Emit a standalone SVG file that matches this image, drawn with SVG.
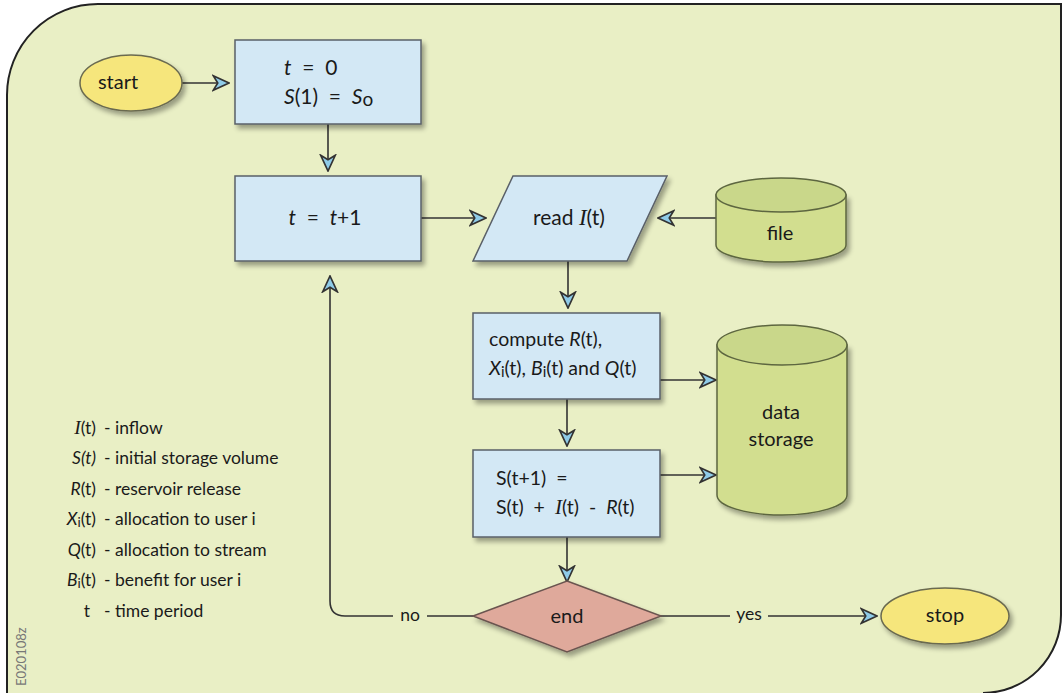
<svg xmlns="http://www.w3.org/2000/svg" width="1063" height="693" viewBox="0 0 1063 693">
<style>
text{font-family:Lato,"Open Sans","Liberation Sans",sans-serif;fill:#1a1a1a}
.box{fill:#d3e8f5;stroke:#5a6068;stroke-width:1.5}
.term{fill:#f6e67b;stroke:#6a6a50;stroke-width:1.5}
.cyl{fill:#d2de8f;stroke:#5d6640;stroke-width:1.5}
.cyltop{fill:#c9d78a;stroke:#5d6640;stroke-width:1.5}
.dia{fill:#dfa99b;stroke:#6a5550;stroke-width:1.5}
.conn{fill:none;stroke:#333;stroke-width:1.6}
.it{font-style:italic}
.ser{font-family:"Liberation Serif",serif;font-style:italic}
.lbl{font-size:17.5px}
.t21{font-size:21px}
.t20{font-size:20px}
.t19{font-size:19.5px}
</style>
<defs>
<filter id="sh" x="-10%" y="-10%" width="130%" height="140%">
<feGaussianBlur in="SourceAlpha" stdDeviation="2.5"/>
<feOffset dx="3" dy="4" result="b"/>
<feComponentTransfer><feFuncA type="linear" slope="0.35"/></feComponentTransfer>
<feMerge><feMergeNode/><feMergeNode in="SourceGraphic"/></feMerge>
</filter>
<marker id="arr" markerUnits="userSpaceOnUse" markerWidth="18" markerHeight="18" viewBox="0 0 16 16" refX="15" refY="8" orient="auto">
<path d="M1,1.5 L15,8 L1,14.5 L5,8 Z" fill="#8fcbe8" stroke="#333" stroke-width="1.5" stroke-linejoin="miter"/>
</marker>
</defs>
<rect width="1063" height="693" fill="#fff"/>
<path d="M7,700 L7,95 A91,91 0 0 1 98,4 L1061,4 L1061,615 A78,78 0 0 1 983,693 L983,700 Z" fill="#e9efc5"/>
<path id="panel" d="M7,693 L7,95 A91,91 0 0 1 98,4 L1061,4 L1061,615 A78,78 0 0 1 983,693" fill="none" stroke="#222" stroke-width="2"/>
<text x="26" y="686" transform="rotate(-90 26 686)" font-size="13" style="fill:#777">E020108z</text>

<g id="connectors">
<line class="conn" x1="182" y1="83" x2="229" y2="83" marker-end="url(#arr)"/>
<line class="conn" x1="328" y1="124" x2="328" y2="171" marker-end="url(#arr)"/>
<line class="conn" x1="421" y1="218" x2="486" y2="218" marker-end="url(#arr)"/>
<line class="conn" x1="716" y1="218" x2="658" y2="218" marker-end="url(#arr)"/>
<line class="conn" x1="568" y1="261" x2="568" y2="308" marker-end="url(#arr)"/>
<line class="conn" x1="567" y1="399" x2="567" y2="446" marker-end="url(#arr)"/>
<line class="conn" x1="567" y1="537" x2="567" y2="582" marker-end="url(#arr)"/>
<line class="conn" x1="660" y1="380" x2="716" y2="380" marker-end="url(#arr)"/>
<line class="conn" x1="660" y1="475" x2="716" y2="475" marker-end="url(#arr)"/>
<path class="conn" d="M473,616 L427,616 M393,616 L345,616 Q330,616 330,601 L330,276" marker-end="url(#arr)"/>
<path class="conn" d="M660,616 L730,616 M768,616 L877,616" marker-end="url(#arr)"/>
<text x="410" y="621" class="lbl" text-anchor="middle">no</text>
<text x="749" y="620" class="lbl" text-anchor="middle">yes</text>
</g>

<g id="start">
<ellipse class="term" cx="131" cy="83" rx="51" ry="28" filter="url(#sh)"/>
<text x="118" y="89" class="t20" text-anchor="middle">start</text>
</g>

<g id="init">
<rect class="box" x="235" y="40" width="186" height="84" filter="url(#sh)"/>
<text x="284" y="75" class="t21" xml:space="preserve"><tspan class="it">t</tspan>  =  0</text>
<text x="284" y="104" class="t21" xml:space="preserve"><tspan class="it">S</tspan>(1)  =  <tspan class="it">S</tspan><tspan font-size="19" dy="2">o</tspan></text>
</g>

<g id="incr">
<rect class="box" x="235" y="176" width="186" height="85" filter="url(#sh)"/>
<text x="325" y="225" class="t21" text-anchor="middle" xml:space="preserve"><tspan class="it">t</tspan>  =  <tspan class="it">t</tspan>+1</text>
</g>

<g id="read">
<polygon class="box" points="513,176 667,176 627,261 473,261" filter="url(#sh)"/>
<text x="569" y="225" class="t21" text-anchor="middle">read <tspan class="ser" font-size="23">I</tspan>(t)</text>
</g>

<g id="file">
<path class="cyl" d="M716,195 L716,245 A65,17 0 0 0 846,245 L846,195 Z" filter="url(#sh)"/>
<ellipse class="cyltop" cx="781" cy="195" rx="65" ry="17"/>
<text x="780" y="240" class="t20" text-anchor="middle">file</text>
</g>

<g id="compute">
<rect class="box" x="473" y="313" width="187" height="86" filter="url(#sh)"/>
<text x="489" y="346" class="t19">compute <tspan class="it">R</tspan>(t),</text>
<text x="489" y="375" class="t19"><tspan class="it">X</tspan><tspan font-size="15" dy="2">i</tspan><tspan dy="-2">(t), </tspan><tspan class="it">B</tspan><tspan font-size="15" dy="2">i</tspan><tspan dy="-2">(t) and </tspan><tspan class="it">Q</tspan>(t)</text>
</g>

<g id="update">
<rect class="box" x="473" y="450" width="187" height="87" filter="url(#sh)"/>
<text x="496" y="485" class="t19" xml:space="preserve">S(t+1)  =</text>
<text x="496" y="514" class="t19" xml:space="preserve">S(t)  +  <tspan class="ser" font-size="21">I</tspan>(t)  -  <tspan class="it">R</tspan>(t)</text>
</g>

<g id="storage">
<path class="cyl" d="M717,345 L717,495 A65,20 0 0 0 847,495 L847,345 Z" filter="url(#sh)"/>
<ellipse class="cyltop" cx="782" cy="345" rx="65" ry="20"/>
<text x="781" y="419" class="t20" text-anchor="middle">data</text>
<text x="781" y="446" class="t20" text-anchor="middle">storage</text>
</g>

<g id="end">
<polygon class="dia" points="567,581 661,616 567,652 473,616" filter="url(#sh)"/>
<text x="567" y="623" class="t20" text-anchor="middle">end</text>
</g>

<g id="stop">
<ellipse class="term" cx="945" cy="616" rx="64" ry="28" filter="url(#sh)"/>
<text x="945" y="622" class="t20" text-anchor="middle">stop</text>
</g>

<g id="legend" class="lbl">
<text x="96" y="434" text-anchor="end"><tspan class="ser" font-size="19.5">I</tspan>(t)</text>
<text x="96" y="464" text-anchor="end" class="it">S(t)</text>
<text x="96" y="495" text-anchor="end"><tspan class="it">R</tspan>(t)</text>
<text x="96" y="525" text-anchor="end"><tspan class="it">X</tspan><tspan font-size="13.5" dy="2">i</tspan><tspan dy="-2">(t)</tspan></text>
<text x="96" y="556" text-anchor="end"><tspan class="it">Q</tspan>(t)</text>
<text x="96" y="586" text-anchor="end"><tspan class="it">B</tspan><tspan font-size="13.5" dy="2">i</tspan><tspan dy="-2">(t)</tspan></text>
<text x="90" y="617" text-anchor="end">t</text>
<text x="104" y="434">- inflow</text>
<text x="104" y="464">- initial storage volume</text>
<text x="104" y="495">- reservoir release</text>
<text x="104" y="525">- allocation to user i</text>
<text x="104" y="556">- allocation to stream</text>
<text x="104" y="586">- benefit for user i</text>
<text x="104" y="617">- time period</text>
</g>
</svg>
